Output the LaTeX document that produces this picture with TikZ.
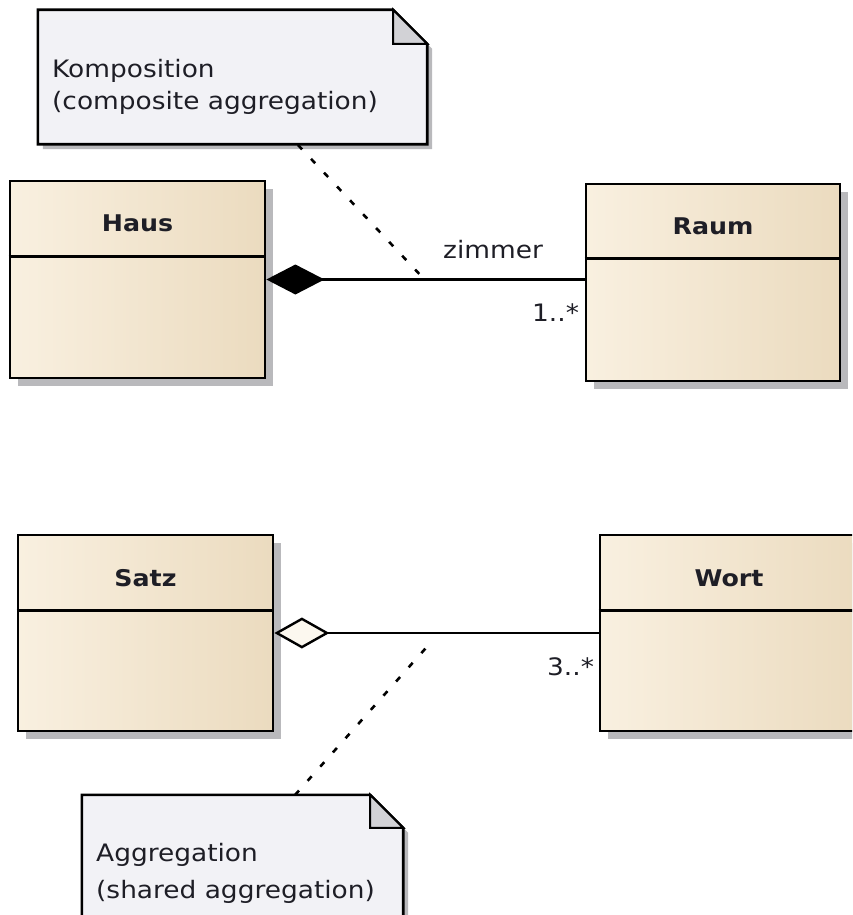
\documentclass[tikz,border=0pt]{standalone}
\usepackage{fontspec}
\setmainfont{DejaVu Sans}[FakeStretch=1.1]
\usetikzlibrary{arrows.meta,shadows}

\definecolor{classleft}{HTML}{F9F0E0}
\definecolor{classright}{HTML}{EBDBBF}
\definecolor{notefill}{HTML}{F2F2F6}
\definecolor{foldfill}{HTML}{D2D2D6}
\definecolor{shadowgray}{HTML}{B9B9BC}
\definecolor{inkdark}{HTML}{1E1E26}

\tikzset{
  umlclass/.style={rectangle, draw=black, line width=2.8pt, inner sep=0pt,
    left color=classleft, right color=classright,
    drop shadow={shadow xshift=8pt, shadow yshift=-8pt, fill=shadowgray, opacity=1}},
  classname/.style={anchor=base, inner sep=0pt, text=inkdark,
    font=\fontsize{23}{27}\selectfont\bfseries},
  notebody/.style={rectangle, inner sep=0pt},
  notetext/.style={anchor=base west, inner sep=0pt, text=inkdark,
    font=\fontsize{24}{28}\selectfont},
  assoclabel/.style={anchor=base west, inner sep=0pt, text=inkdark,
    font=\fontsize{24}{28}\selectfont},
  divider/.style={line width=2.6pt},
  assoc/.style={line width=2.4pt},
  anchorline/.style={line width=2.6pt, dash pattern=on 6pt off 13pt},
}

\begin{document}
\begin{tikzpicture}[x=1pt, y=-1pt]
\useasboundingbox (0,0) rectangle (852,915);
\clip (0,0) rectangle (852,915);

% ---------- composition: Haus <>-- Raum ----------
\node[umlclass, minimum width=255pt, minimum height=197pt] (haus) at (137.5,279.5) {};
\draw[divider] ([yshift=-77pt]haus.north west) -- ([yshift=-77pt]haus.north east);
\node[classname] (hausname) at ([yshift=-52pt]haus.north) {Haus};

\node[umlclass, minimum width=254pt, minimum height=197pt] (raum) at (713,282.5) {};
\draw[divider] ([yshift=-76pt]raum.north west) -- ([yshift=-76pt]raum.north east);
\node[classname] (raumname) at ([yshift=-52pt]raum.north) {Raum};

\draw[assoc, {Diamond[length=58pt, width=30pt, fill=black]}-] (haus.east) -- (raum.west |- haus.east);
\node[assoclabel] (zimmer) at (443,258) {zimmer};
\node[assoclabel] (mult1) at (532,321) {1..*};

% note for the composition
\node[notebody, minimum width=389pt, minimum height=134pt] (note1) at (232.5,77) {};
\fill[shadowgray] ([xshift=5pt,yshift=-5pt]note1.north west) -- ([xshift=-29pt,yshift=-5pt]note1.north east)
  -- ([xshift=5pt,yshift=-39pt]note1.north east) -- ([xshift=5pt,yshift=-5pt]note1.south east)
  -- ([xshift=5pt,yshift=-5pt]note1.south west) -- cycle;
\filldraw[fill=notefill, draw=black, line width=2.6pt] (note1.north west) -- ([xshift=-34pt]note1.north east)
  -- ([yshift=-34pt]note1.north east) -- (note1.south east) -- (note1.south west) -- cycle;
\filldraw[fill=foldfill, draw=black, line width=2pt] ([xshift=-34pt]note1.north east)
  -- ([xshift=-34pt,yshift=-34pt]note1.north east) -- ([yshift=-34pt]note1.north east) -- cycle;
\node[notetext] (note1a) at (52,78) {Komposition};
\node[notetext] (note1b) at (52,110) {(composite aggregation)};

\coordinate (n1foot) at (298,145);
\coordinate (c1) at (425,280);
\draw[anchorline] (n1foot) -- (c1);

% ---------- aggregation: Satz <>-- Wort ----------
\node[umlclass, minimum width=255pt, minimum height=196pt] (satz) at (145.5,633) {};
\draw[divider] ([yshift=-77pt]satz.north west) -- ([yshift=-77pt]satz.north east);
\node[classname] (satzname) at ([yshift=-53pt]satz.north) {Satz};

\node[umlclass, minimum width=258pt, minimum height=196pt] (wort) at (729,633) {};
\draw[divider] ([yshift=-77pt]wort.north west) -- ([yshift=-77pt]wort.north east);
\node[classname] (wortname) at ([yshift=-53pt]wort.north) {Wort};

\draw[assoc, {Diamond[length=55pt, width=31pt, fill=classleft!50!white]}-] (satz.east) -- (wort.west |- satz.east);
\node[assoclabel] (mult2) at (547,675) {3..*};

% note for the aggregation
\node[notebody, minimum width=321pt, minimum height=140pt] (note2) at (242.5,865) {};
\fill[shadowgray] ([xshift=5pt,yshift=-5pt]note2.north west) -- ([xshift=-28pt,yshift=-5pt]note2.north east)
  -- ([xshift=5pt,yshift=-38pt]note2.north east) -- ([xshift=5pt,yshift=-5pt]note2.south east)
  -- ([xshift=5pt,yshift=-5pt]note2.south west) -- cycle;
\filldraw[fill=notefill, draw=black, line width=2.6pt] (note2.north west) -- ([xshift=-33pt]note2.north east)
  -- ([yshift=-33pt]note2.north east) -- (note2.south east) -- (note2.south west) -- cycle;
\filldraw[fill=foldfill, draw=black, line width=2pt] ([xshift=-33pt]note2.north east)
  -- ([xshift=-33pt,yshift=-33pt]note2.north east) -- ([yshift=-33pt]note2.north east) -- cycle;
\node[notetext] (note2a) at (96,861) {Aggregation};
\node[notetext] (note2b) at (96,898) {(shared aggregation)};

\coordinate (n2foot) at (295,795);
\coordinate (c2) at (433,640);
\draw[anchorline] (n2foot) -- (c2);
\end{tikzpicture}
\end{document}
